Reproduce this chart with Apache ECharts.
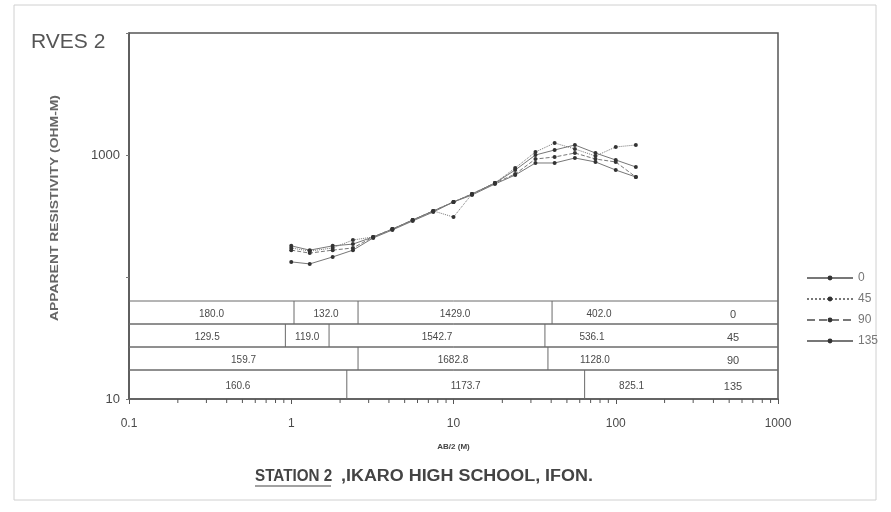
<!DOCTYPE html>
<html>
<head>
<meta charset="utf-8">
<script src="https://cdn.jsdelivr.net/npm/echarts@6/dist/echarts.min.js"></script>
<style>
  html, body { margin: 0; padding: 0; background: #fff; }
  #chart { width: 891px; height: 512px; }
</style>
</head>
<body>
<div id="chart"></div>
<script>
// Half electrode spacing AB/2 (m)
const spacings = [1, 1.3, 1.8, 2.4, 3.2, 4.2, 5.6, 7.5, 10, 13, 18, 24, 32, 42, 56, 75, 100, 133];

// Azimuth of each sounding (degrees)
const azimuths = ['0', '45', '90', '135'];

// Apparent resistivity (ohm-m) for each azimuth
const rho0   = [180, 166, 180, 186, 213, 247, 293, 348, 412, 479, 589, 753, 1000, 1099, 1208, 1038, 910, 798];
const rho45  = [173, 163, 173, 201, 213, 247, 293, 348, 310, 479, 589, 782, 1059, 1254, 1120, 981, 1164, 1208];
const rho90  = [166, 157, 166, 173, 213, 247, 293, 348, 412, 479, 589, 698, 927, 963, 1038, 927, 877, 660];
const rho135 = [133, 128, 146, 166, 209, 243, 288, 341, 412, 470, 578, 685, 860, 860, 945, 877, 753, 660];

// Interpreted layer resistivities and layer boundary depths (m) for each azimuth
const layers0   = ['180.0', '132.0', '1429.0', '402.0'];
const depths0   = [1.04, 2.58, 40.5];
const layers45  = ['129.5', '119.0', '1542.7', '536.1'];
const depths45  = [0.92, 1.71, 36.6];
const layers90  = ['159.7', '1682.8', '1128.0'];
const depths90  = [2.58, 38.2];
const layers135 = ['160.6', '1173.7', '825.1'];
const depths135 = [2.2, 64.3];

// Axis label values
const xLabels = [0.1, 1, 10, 100, 1000];
const yLabels = [10, 1000];

const series = [rho0, rho45, rho90, rho135];
const tableLayers = [layers0, layers45, layers90, layers135];
const tableDepths = [depths0, depths45, depths90, depths135];
const lineTypes = ['solid', 'dotted', 'dashed', 'solid'];

const FONT = 'Liberation Sans, Arial, sans-serif';
const TEXT = '#4a4a4a';

// minor ticks at 2..9 of every decade
const minorTicks = [];
[0.1, 1, 10, 100].forEach(d => { for (let m = 2; m <= 9; m++) minorTicks.push(+(d * m).toPrecision(3)); });

// table rows: heights from the top row down
const rowHeights = [23, 23, 23, 29];

function renderTableRow(params, api) {
  const row = params.dataIndex;
  const cs = params.coordSys;
  const bottom = cs.y + cs.height;
  const total = rowHeights.reduce((a, b) => a + b, 0);
  let top = bottom - total;
  for (let i = 0; i < row; i++) top += rowHeights[i];
  const rowH = rowHeights[row];
  const left = cs.x, right = cs.x + cs.width;
  const azLeft = right - 82;
  const xs = [left].concat(tableDepths[row].map(d => api.coord([d, 10])[0]));
  xs.push(azLeft);
  const stroke = { stroke: '#6a6a6a', lineWidth: 1, fill: null };
  const children = [
    { type: 'line', shape: { x1: left, y1: top, x2: right, y2: top }, style: stroke },
    { type: 'line', shape: { x1: left, y1: top + rowH, x2: right, y2: top + rowH }, style: stroke }
  ];
  for (let i = 1; i < xs.length - 1; i++) {
    children.push({ type: 'line', shape: { x1: xs[i], y1: top, x2: xs[i], y2: top + rowH }, style: stroke });
  }
  const ty = top + rowH / 2 + 2;
  tableLayers[row].forEach((t, i) => {
    const cx = i < xs.length - 2 ? (xs[i] + xs[i + 1]) / 2 : xs[i] + 47;
    children.push({ type: 'text', style: { text: t, x: cx, y: ty, align: 'center', verticalAlign: 'middle', fill: TEXT, font: '10px ' + FONT } });
  });
  children.push({ type: 'text', style: { text: azimuths[row], x: (azLeft + right) / 2 - 4, y: ty, align: 'center', verticalAlign: 'middle', fill: TEXT, font: '11px ' + FONT } });
  return { type: 'group', children };
}

function renderMinorTick(params, api) {
  const p = api.coord([api.value(0), 10]);
  return { type: 'line', shape: { x1: p[0], y1: p[1], x2: p[0], y2: p[1] + 4 }, style: { stroke: '#555', lineWidth: 1 } };
}

const chart = echarts.init(document.getElementById('chart'), null, { renderer: 'canvas' });

chart.setOption({
  backgroundColor: '#fff',
  animation: false,
  textStyle: { fontFamily: FONT },
  title: [{
    text: 'RVES 2', left: 26, top: 27,
    textStyle: { fontSize: 21, fontWeight: 'normal', color: '#555', fontFamily: FONT }
  }],
  grid: {
    left: 129, right: 113, top: 33, bottom: 113,
    show: true, borderColor: '#555', borderWidth: 1.5, backgroundColor: 'transparent'
  },
  legend: {
    orient: 'vertical', left: 801, top: 267,
    itemWidth: 46, itemHeight: 6, itemGap: 9,
    data: azimuths,
    textStyle: { fontSize: 12, color: '#777', fontFamily: FONT }
  },
  xAxis: {
    type: 'log', logBase: 10, min: 0.1, max: 1000,
    name: 'AB/2 (M)', nameLocation: 'middle', nameGap: 44,
    nameTextStyle: { fontSize: 8, fontWeight: 'bold', color: '#444' },
    axisLine: { show: true, lineStyle: { color: '#555', width: 1.5 } },
    axisTick: { show: true, length: 5, lineStyle: { color: '#555' } },
    axisLabel: {
      margin: 19, fontSize: 12, color: TEXT,
      formatter: v => (xLabels.some(l => Math.abs(l - v) / l < 1e-6) ? String(+v.toPrecision(3)) : '')
    },
    splitLine: { show: false }
  },
  yAxis: {
    type: 'log', logBase: 10, min: 10, max: 10000,
    axisLine: { show: true, lineStyle: { color: '#555', width: 1.5 } },
    axisTick: { show: true, length: 3, lineStyle: { color: '#777' } },
    axisLabel: {
      margin: 9, fontSize: 13, color: TEXT,
      formatter: v => (yLabels.some(l => Math.abs(l - v) / l < 1e-6) ? String(Math.round(v)) : '')
    },
    splitLine: { show: false }
  },
  series: series.map((d, i) => ({
    name: azimuths[i],
    type: 'line',
    data: spacings.map((x, j) => [x, d[j]]),
    symbol: 'circle', symbolSize: 4,
    itemStyle: { color: '#333' },
    lineStyle: { color: '#777', width: 1, type: lineTypes[i] },
    z: 3
  })).concat([{
    type: 'custom',
    data: [0, 1, 2, 3],
    renderItem: renderTableRow,
    silent: true, clip: false, z: 2
  }, {
    type: 'custom',
    data: minorTicks.map(v => [v]),
    renderItem: renderMinorTick,
    silent: true, clip: false, z: 2
  }]),
  graphic: [
    { type: 'rect', shape: { x: 14, y: 5, width: 862, height: 495 }, style: { stroke: '#d0d0d0', fill: null, lineWidth: 1 }, silent: true },
    {
      type: 'text', x: 55, y: 208, rotation: Math.PI / 2, scaleX: 1.39,
      style: { text: 'APPARENT RESISTIVITY (OHM-M)', align: 'center', verticalAlign: 'middle', font: 'bold 10px ' + FONT, fill: '#666' }
    },
    {
      type: 'text', x: 255, y: 477, scaleX: 0.95,
      style: { text: 'STATION 2', align: 'left', verticalAlign: 'middle', font: 'bold 16px ' + FONT, fill: '#444' }
    },
    { type: 'line', shape: { x1: 255, y1: 486, x2: 331, y2: 486 }, style: { stroke: '#444', lineWidth: 1.2 } },
    {
      type: 'text', x: 341, y: 477, scaleX: 1.12,
      style: { text: ',IKARO HIGH SCHOOL, IFON.', align: 'left', verticalAlign: 'middle', font: 'bold 16px ' + FONT, fill: '#444' }
    }
  ]
});
</script>
</body>
</html>
